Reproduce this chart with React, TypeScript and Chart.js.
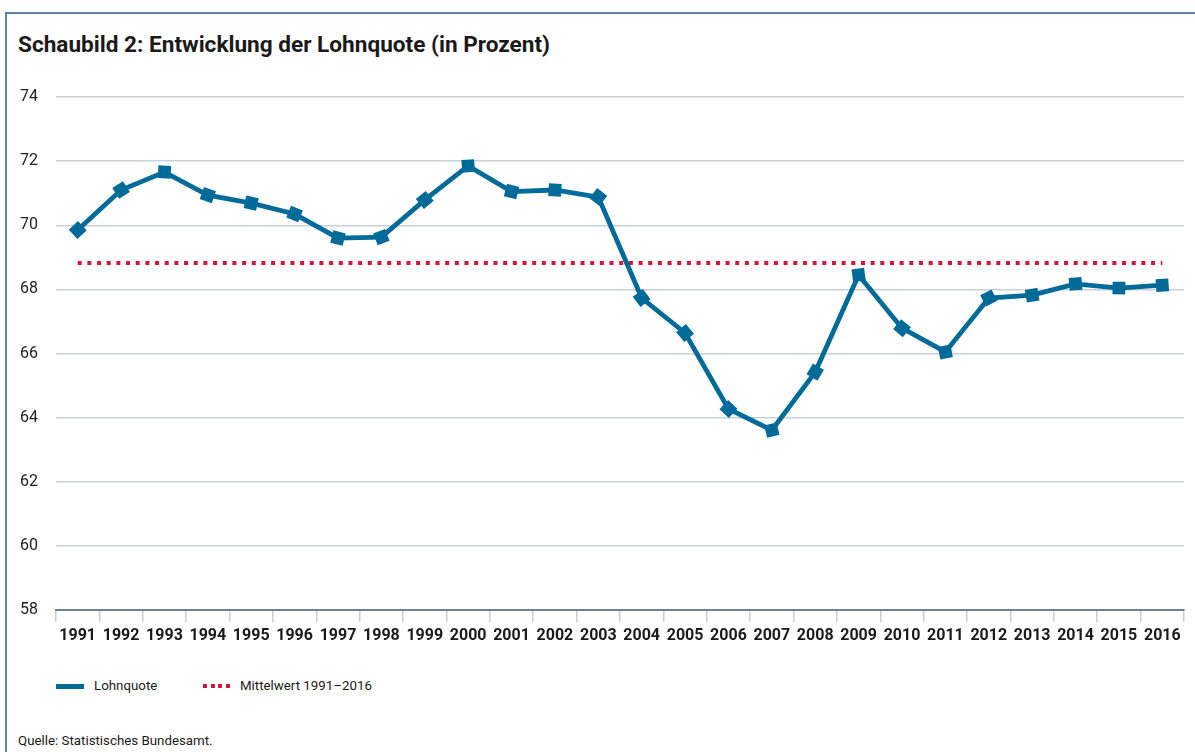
import React, { useEffect, useRef } from "react";
import { Chart, registerables } from "chart.js";

Chart.register(...registerables);

const years = [
  "1991", "1992", "1993", "1994", "1995", "1996", "1997", "1998", "1999", "2000",
  "2001", "2002", "2003", "2004", "2005", "2006", "2007", "2008", "2009", "2010",
  "2011", "2012", "2013", "2014", "2015", "2016",
];

const lohnquote = [
  69.85, 71.1, 71.66, 70.94, 70.69, 70.35, 69.6, 69.63, 70.79, 71.85,
  71.05, 71.1, 70.88, 67.73, 66.64, 64.27, 63.61, 65.42, 68.45, 66.79,
  66.05, 67.73, 67.82, 68.17, 68.04, 68.13,
];

const mittelwert = [
  68.82, 68.82, 68.82, 68.82, 68.82, 68.82, 68.82, 68.82, 68.82, 68.82,
  68.82, 68.82, 68.82, 68.82, 68.82, 68.82, 68.82, 68.82, 68.82, 68.82,
  68.82, 68.82, 68.82, 68.82, 68.82, 68.82,
];

const yMin = 58;
const yMax = 74;
const yStep = 2;

const titleText = "Schaubild 2: Entwicklung der Lohnquote (in Prozent)";
const legendLohn = "Lohnquote";
const legendMittel = "Mittelwert 1991–2016";
const sourceText = "Quelle: Statistisches Bundesamt.";

const BLUE = "#006a99";
const RED = "#d5153a";
const FONT = "Roboto, 'Noto Sans', sans-serif";

export default function App() {
  const canvasRef = useRef<HTMLCanvasElement | null>(null);

  useEffect(() => {
    if (!canvasRef.current) return;
    const n = lohnquote.length;
    const rotationFn = (ctx: any) => {
      const chart = ctx.chart;
      const xs = chart.scales?.x;
      const ys = chart.scales?.y;
      const i = ctx.dataIndex;
      if (!xs || !ys || i === undefined) return 0;
      const px = (k: number) => xs.getPixelForValue(k);
      const py = (k: number) => ys.getPixelForValue(lohnquote[k]);
      const angles: number[] = [];
      if (i > 0) angles.push(Math.atan2(py(i) - py(i - 1), px(i) - px(i - 1)));
      if (i < n - 1) angles.push(Math.atan2(py(i + 1) - py(i), px(i + 1) - px(i)));
      const a = angles.reduce((s, v) => s + v, 0) / angles.length;
      return (a * 180) / Math.PI;
    };

    const chart = new Chart(canvasRef.current, {
      type: "line",
      data: {
        labels: years,
        datasets: [
          {
            label: legendMittel,
            data: mittelwert,
            borderColor: RED,
            borderWidth: 4,
            borderDash: [4, 5.67],
            borderCapStyle: "butt",
            pointRadius: 0,
            fill: false,
            order: 2,
          },
          {
            label: legendLohn,
            data: lohnquote,
            borderColor: BLUE,
            backgroundColor: BLUE,
            borderWidth: 4.8,
            pointStyle: "rect",
            pointRadius: 9,
            pointBorderWidth: 0,
            pointBackgroundColor: BLUE,
            pointRotation: rotationFn as any,
            tension: 0,
            fill: false,
            order: 1,
          },
        ],
      },
      options: {
        animation: false,
        responsive: false,
        maintainAspectRatio: false,
        layout: { padding: { left: 20, right: 11, top: 17, bottom: 0 } },
        plugins: {
          legend: { display: false },
          tooltip: { enabled: false },
          title: { display: false },
        },
        scales: {
          x: {
            type: "category",
            offset: true,
            grid: {
              display: true,
              offset: true,
              drawOnChartArea: false,
              drawTicks: true,
              tickLength: 12,
              color: "#c6cdd6",
              lineWidth: 1.5,
            },
            border: { display: true, color: "#6d8393", width: 2 },
            ticks: {
              color: "#1a1a1a",
              font: { family: FONT, size: 16, weight: "bold" },
              padding: 4,
              maxRotation: 0,
              autoSkip: false,
            },
            afterFit: (scale: any) => {
              scale.height = 40;
            },
          },
          y: {
            min: yMin,
            max: yMax,
            grid: {
              color: (c: any) => (c.tick && c.tick.value === yMin ? "rgba(0,0,0,0)" : "#cad0d8"),
              lineWidth: 1.5,
              drawTicks: false,
            },
            border: { display: false },
            ticks: {
              stepSize: yStep,
              color: "#222222",
              font: { family: FONT, size: 16 },
              crossAlign: "far",
              padding: 0,
            },
            afterFit: (scale: any) => {
              scale.width = 36;
            },
          },
        },
      },
    });
    return () => chart.destroy();
  }, []);

  return (
    <div
      style={{
        position: "fixed",
        left: 0,
        top: 0,
        width: 1195,
        height: 752,
        background: "#ffffff",
        overflow: "hidden",
        fontFamily: FONT,
        color: "#1a1a1a",
      }}
    >
      <div
        style={{
          position: "absolute",
          left: 5,
          top: 12,
          right: 0,
          bottom: 0,
          borderTop: "2px solid #5b84a4",
          borderLeft: "2px solid #5b84a4",
        }}
      />
      <div
        style={{
          position: "absolute",
          left: 18,
          top: 31,
          fontSize: 22.6,
          lineHeight: "28px",
          fontWeight: "bold",
          whiteSpace: "nowrap",
        }}
      >
        {titleText}
      </div>
      <div style={{ position: "absolute", left: 0, top: 80, width: 1195, height: 570 }}>
        <canvas ref={canvasRef} width={1195} height={570} style={{ display: "block" }} />
      </div>
      <div style={{ position: "absolute", left: 56, top: 684, width: 28, height: 5, background: BLUE }} />
      <div
        style={{
          position: "absolute",
          left: 94,
          top: 677,
          fontSize: 13.3,
          lineHeight: "18px",
          whiteSpace: "nowrap",
        }}
      >
        {legendLohn}
      </div>
      <div
        style={{
          position: "absolute",
          left: 203,
          top: 684,
          width: 28,
          height: 4,
          background: `repeating-linear-gradient(to right, ${RED} 0px, ${RED} 4px, transparent 4px, transparent 7.7px)`,
        }}
      />
      <div
        style={{
          position: "absolute",
          left: 240,
          top: 677,
          fontSize: 13.3,
          lineHeight: "18px",
          whiteSpace: "nowrap",
        }}
      >
        {legendMittel}
      </div>
      <div
        style={{
          position: "absolute",
          left: 18,
          top: 732,
          fontSize: 13.3,
          lineHeight: "18px",
          whiteSpace: "nowrap",
        }}
      >
        {sourceText}
      </div>
    </div>
  );
}
